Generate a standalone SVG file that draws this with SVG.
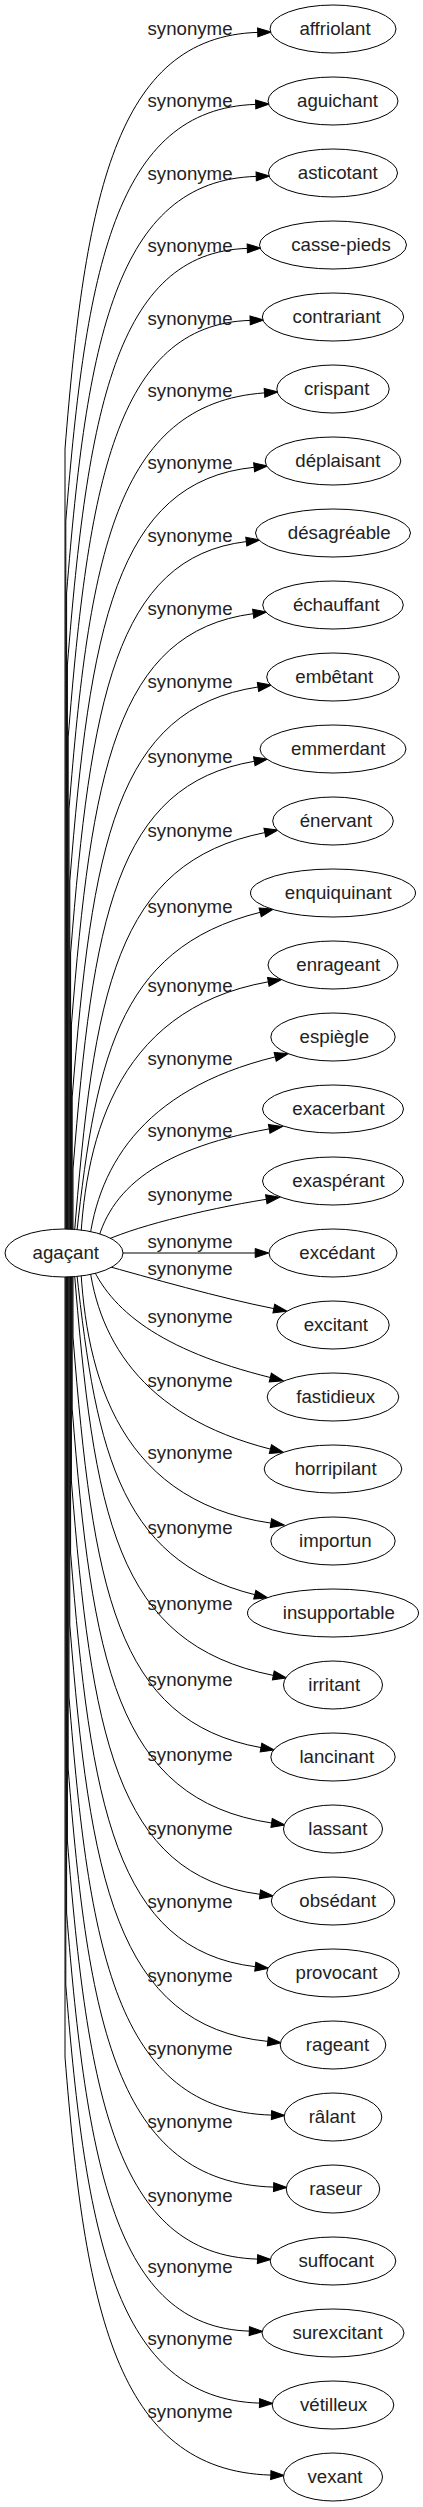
<svg xmlns="http://www.w3.org/2000/svg" width="423" height="2507" viewBox="0 0 423 2507">
<defs>
<style>
.edge path{fill:none;stroke:#000;stroke-width:1;marker-end:url(#arr)}
.edge text{font-family:"Liberation Sans",Arial,sans-serif;font-size:18.67px;fill:#222;text-anchor:middle}
.node ellipse{fill:#fff;stroke:#000;stroke-width:1}
.node text{font-family:"Liberation Sans",Arial,sans-serif;font-size:18.67px;fill:#222;text-anchor:middle}
</style>
<marker id="arr" markerUnits="userSpaceOnUse" markerWidth="14" markerHeight="10" viewBox="0 0 14 10" refX="0" refY="5" orient="auto" overflow="visible">
<path d="M0,0.5 L13.5,5 L0,9.5 Z" fill="#000" stroke="#000" stroke-width="1"/>
</marker>
</defs>
<rect width="423" height="2507" fill="#fff"/>
<g id="connectors">
<g class="edge" id="e0"><path d="M65,1250 L65,449 C85,199 115,36.7 257.7,32.4"/><text x="190" y="35">synonyme</text></g>
<g class="edge" id="e1"><path d="M65.8,1250 L65.8,521 C85.8,271 115,108.6 255.7,104.4"/><text x="190" y="106.7">synonyme</text></g>
<g class="edge" id="e2"><path d="M66.6,1250 L66.6,593 C86.6,343 115,180.6 256.2,176.4"/><text x="190" y="180">synonyme</text></g>
<g class="edge" id="e3"><path d="M67.4,1250 L67.4,665 C87.4,415 115,252.4 247.3,248.4"/><text x="190" y="252.3">synonyme</text></g>
<g class="edge" id="e4"><path d="M68.2,1250 L68.2,737 C88.2,487 115,324.5 250.1,320.4"/><text x="190" y="325">synonyme</text></g>
<g class="edge" id="e5"><path d="M69,1250 L69,809 C89,559 115,403.4 264.5,392.9"/><text x="190" y="397.3">synonyme</text></g>
<g class="edge" id="e6"><path d="M69.8,1250 L69.8,881 C89.8,631 115,481.2 254.1,467.3"/><text x="190" y="469.3">synonyme</text></g>
<g class="edge" id="e7"><path d="M70.6,1250 L70.6,953 C90.6,703 115,557.4 246.3,541.6"/><text x="190" y="542.3">synonyme</text></g>
<g class="edge" id="e8"><path d="M71.4,1250 L71.4,1025 C91.4,775 115,631.7 253.2,613.7"/><text x="190" y="615">synonyme</text></g>
<g class="edge" id="e9"><path d="M72.2,1250 L72.2,1097 C92.2,847 115,708.5 258,687"/><text x="190" y="688.3">synonyme</text></g>
<g class="edge" id="e10"><path d="M73,1250 L73,1169 C93,919 115,785 254.3,761.3"/><text x="190" y="762.7">synonyme</text></g>
<g class="edge" id="e11"><path d="M73.8,1250 L73.8,1241 C93.8,991 115,862.6 264.8,832.6"/><text x="190" y="836.7">synonyme</text></g>
<g class="edge" id="e12"><path d="M74.6,1253 C94.6,1063 115,948.6 260.2,912.3"/><text x="190" y="913.3">synonyme</text></g>
<g class="edge" id="e13"><path d="M80,1253 C84,1150 110,1010 268.3,981.8"/><text x="190" y="991.7">synonyme</text></g>
<g class="edge" id="e14"><path d="M88,1253 C95,1170 140,1090 275.2,1056.9"/><text x="190" y="1065">synonyme</text></g>
<g class="edge" id="e15"><path d="M95,1253 C105,1195 150,1150 269.2,1128.9"/><text x="190" y="1137.3">synonyme</text></g>
<g class="edge" id="e16"><path d="M100,1243 C130,1228 200,1210 266.3,1199.3"/><text x="190" y="1200.7">synonyme</text></g>
<g class="edge" id="e17"><path d="M123,1253 L255.2,1253"/><text x="190" y="1248.3">synonyme</text></g>
<g class="edge" id="e18"><path d="M100,1264 C150,1278 220,1298 273.8,1308.6"/><text x="190" y="1275">synonyme</text></g>
<g class="edge" id="e19"><path d="M90,1262 C110,1310 160,1350 270.3,1377.5"/><text x="190" y="1323.3">synonyme</text></g>
<g class="edge" id="e20"><path d="M88,1253 C95,1336 140,1416 270.4,1449.1"/><text x="190" y="1386.7">synonyme</text></g>
<g class="edge" id="e21"><path d="M80,1253 C84,1360 110,1500 270.9,1523.1"/><text x="190" y="1459.3">synonyme</text></g>
<g class="edge" id="e22"><path d="M74.6,1253 C94.6,1443 115,1559.8 254.8,1594.7"/><text x="190" y="1534">synonyme</text></g>
<g class="edge" id="e23"><path d="M73.8,1256 L73.8,1265 C93.8,1515 115,1643.7 273.3,1675.4"/><text x="190" y="1610">synonyme</text></g>
<g class="edge" id="e24"><path d="M73,1256 L73,1337 C93,1587 115,1721.3 261,1747.6"/><text x="190" y="1686">synonyme</text></g>
<g class="edge" id="e25"><path d="M72.2,1256 L72.2,1409 C92.2,1659 115,1799.5 271.6,1823"/><text x="190" y="1760.7">synonyme</text></g>
<g class="edge" id="e26"><path d="M71.4,1256 L71.4,1481 C91.4,1731 115,1875.5 260,1894.3"/><text x="190" y="1835">synonyme</text></g>
<g class="edge" id="e27"><path d="M70.6,1256 L70.6,1553 C90.6,1803 115,1949.9 255.3,1966.7"/><text x="190" y="1908.3">synonyme</text></g>
<g class="edge" id="e28"><path d="M69.8,1256 L69.8,1625 C89.8,1875 115,2026.1 267.8,2041.4"/><text x="190" y="1981.7">synonyme</text></g>
<g class="edge" id="e29"><path d="M69,1256 L69,1697 C89,1947 115,2110.4 271.5,2115.1"/><text x="190" y="2055">synonyme</text></g>
<g class="edge" id="e30"><path d="M68.2,1256 L68.2,1769 C88.2,2019 115,2182.3 273.6,2187.1"/><text x="190" y="2128.3">synonyme</text></g>
<g class="edge" id="e31"><path d="M67.4,1256 L67.4,1841 C87.4,2091 115,2254.8 257.5,2259.1"/><text x="190" y="2201.7">synonyme</text></g>
<g class="edge" id="e32"><path d="M66.6,1256 L66.6,1913 C86.6,2163 115,2327.1 249.3,2331.1"/><text x="190" y="2273.3">synonyme</text></g>
<g class="edge" id="e33"><path d="M65.8,1256 L65.8,1985 C85.8,2235 115,2398.8 259.5,2403.1"/><text x="190" y="2345">synonyme</text></g>
<g class="edge" id="e34"><path d="M65,1256 L65,2057 C85,2307 115,2470.4 270.8,2475.1"/><text x="190" y="2418.3">synonyme</text></g>
</g>
<g id="n-agacant" class="node"><ellipse cx="64" cy="1253" rx="59" ry="24"/><text x="65.8" y="1259">agaçant</text></g>
<g id="n-affriolant" class="node"><ellipse cx="333" cy="29" rx="63" ry="24"/><text x="335" y="35">affriolant</text></g>
<g id="n-aguichant" class="node"><ellipse cx="333" cy="101" rx="65" ry="24"/><text x="337.5" y="107">aguichant</text></g>
<g id="n-asticotant" class="node"><ellipse cx="333" cy="173" rx="64.5" ry="24"/><text x="337.8" y="179">asticotant</text></g>
<g id="n-casse-pieds" class="node"><ellipse cx="333" cy="245" rx="73.5" ry="24"/><text x="341" y="251">casse-pieds</text></g>
<g id="n-contrariant" class="node"><ellipse cx="333" cy="317" rx="70.7" ry="24"/><text x="336.7" y="323">contrariant</text></g>
<g id="n-crispant" class="node"><ellipse cx="333" cy="389" rx="56.2" ry="24"/><text x="336.7" y="395">crispant</text></g>
<g id="n-deplaisant" class="node"><ellipse cx="333" cy="461" rx="67.8" ry="24"/><text x="337.8" y="467">déplaisant</text></g>
<g id="n-desagreable" class="node"><ellipse cx="333" cy="533" rx="77.5" ry="24"/><text x="339.2" y="539">désagréable</text></g>
<g id="n-echauffant" class="node"><ellipse cx="333" cy="605" rx="70.3" ry="24"/><text x="336.3" y="611">échauffant</text></g>
<g id="n-embetant" class="node"><ellipse cx="333" cy="677" rx="66.3" ry="24"/><text x="334.2" y="683">embêtant</text></g>
<g id="n-emmerdant" class="node"><ellipse cx="333" cy="749" rx="73" ry="24"/><text x="338.3" y="755">emmerdant</text></g>
<g id="n-enervant" class="node"><ellipse cx="333" cy="821" rx="60.3" ry="24"/><text x="336" y="827">énervant</text></g>
<g id="n-enquiquinant" class="node"><ellipse cx="333" cy="893" rx="82.5" ry="24"/><text x="338.3" y="899">enquiquinant</text></g>
<g id="n-enrageant" class="node"><ellipse cx="333" cy="965" rx="65" ry="24"/><text x="338.3" y="971">enrageant</text></g>
<g id="n-espiegle" class="node"><ellipse cx="333" cy="1037" rx="62.2" ry="24"/><text x="334.3" y="1043">espiègle</text></g>
<g id="n-exacerbant" class="node"><ellipse cx="333" cy="1109" rx="70.5" ry="24"/><text x="338.5" y="1115">exacerbant</text></g>
<g id="n-exasperant" class="node"><ellipse cx="333" cy="1181" rx="70.5" ry="24"/><text x="338.5" y="1187">exaspérant</text></g>
<g id="n-excedant" class="node"><ellipse cx="333" cy="1253" rx="64" ry="24"/><text x="337.2" y="1259">excédant</text></g>
<g id="n-excitant" class="node"><ellipse cx="333" cy="1325" rx="56.2" ry="24"/><text x="335.8" y="1331">excitant</text></g>
<g id="n-fastidieux" class="node"><ellipse cx="333" cy="1397" rx="65.8" ry="24"/><text x="335.7" y="1403">fastidieux</text></g>
<g id="n-horripilant" class="node"><ellipse cx="333" cy="1469" rx="68.8" ry="24"/><text x="335.7" y="1475">horripilant</text></g>
<g id="n-importun" class="node"><ellipse cx="333" cy="1541" rx="62.2" ry="24"/><text x="335.3" y="1547">importun</text></g>
<g id="n-insupportable" class="node"><ellipse cx="333" cy="1613" rx="85.5" ry="24"/><text x="338.8" y="1619">insupportable</text></g>
<g id="n-irritant" class="node"><ellipse cx="333" cy="1685" rx="49.5" ry="24"/><text x="334.2" y="1691">irritant</text></g>
<g id="n-lancinant" class="node"><ellipse cx="333" cy="1757" rx="62.2" ry="24"/><text x="336.8" y="1763">lancinant</text></g>
<g id="n-lassant" class="node"><ellipse cx="333" cy="1829" rx="49.5" ry="24"/><text x="337.8" y="1835">lassant</text></g>
<g id="n-obsedant" class="node"><ellipse cx="333" cy="1901" rx="61.7" ry="24"/><text x="337.7" y="1907">obsédant</text></g>
<g id="n-provocant" class="node"><ellipse cx="333" cy="1973" rx="66.3" ry="24"/><text x="336.5" y="1979">provocant</text></g>
<g id="n-rageant" class="node"><ellipse cx="333" cy="2045" rx="52.8" ry="24"/><text x="337.5" y="2051">rageant</text></g>
<g id="n-ralant" class="node"><ellipse cx="333" cy="2117" rx="48.8" ry="24"/><text x="332" y="2123">râlant</text></g>
<g id="n-raseur" class="node"><ellipse cx="333" cy="2189" rx="46.7" ry="24"/><text x="335.8" y="2195">raseur</text></g>
<g id="n-suffocant" class="node"><ellipse cx="333" cy="2261" rx="62.8" ry="24"/><text x="336.2" y="2267">suffocant</text></g>
<g id="n-surexcitant" class="node"><ellipse cx="333" cy="2333" rx="71" ry="24"/><text x="337.5" y="2339">surexcitant</text></g>
<g id="n-vetilleux" class="node"><ellipse cx="333" cy="2405" rx="60.8" ry="24"/><text x="333.7" y="2411">vétilleux</text></g>
<g id="n-vexant" class="node"><ellipse cx="333" cy="2477" rx="49.5" ry="24"/><text x="335" y="2483">vexant</text></g>
</svg>
